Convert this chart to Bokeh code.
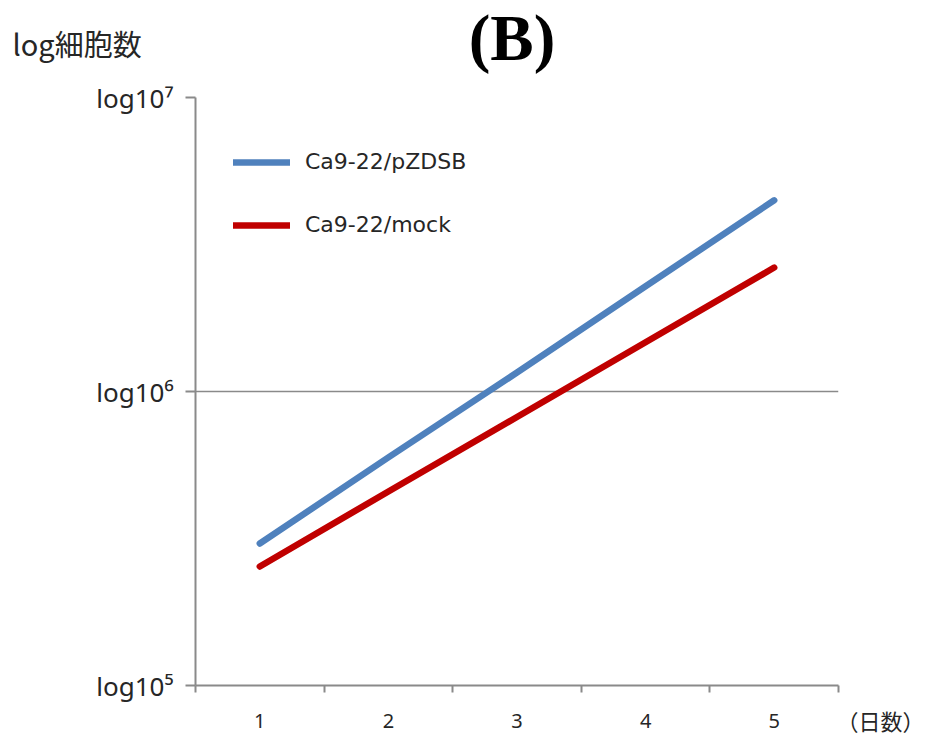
from bokeh.plotting import figure
from bokeh.layouts import column
from bokeh.models import FixedTicker, Legend, LegendItem, Label, Range1d
from bokeh.embed import file_html
from bokeh.resources import INLINE

# ---- data ----
days = [1, 2, 3, 4, 5]
pzdsb = [3.04e5, 5.97e5, 1.16e6, 2.28e6, 4.47e6]   # Ca9-22/pZDSB
mock = [2.54e5, 4.57e5, 8.19e5, 1.47e6, 2.64e6]    # Ca9-22/mock
y_ticks = [1e5, 1e6, 1e7]
y_tick_labels = ["log10\u2075", "log10\u2076", "log10\u2077"]
series_names = ["Ca9-22/pZDSB", "Ca9-22/mock"]
title_text = "(B)"
y_title = "log細胞数"
x_title = "（日数）"

GRAY = "#8a8a8a"
TXT = "#262626"
HEADER_H = 78
X_LO, X_HI = days[0] - 0.5, days[-1] + 0.5

# ---- header strip with the title texts (frame aligned with the chart below) ----
head = figure(width=928, height=HEADER_H, output_backend="svg", toolbar_location=None,
              x_range=Range1d(X_LO, X_HI), y_range=Range1d(0, HEADER_H),
              x_axis_location=None, y_axis_location=None,
              min_border=0, min_border_left=0, min_border_right=0,
              min_border_top=0, min_border_bottom=0)
head.outline_line_color = None
head.grid.visible = False
head.add_layout(Label(x=(X_LO + X_HI) / 2, x_offset=-5, y=HEADER_H - 37, text=title_text,
                      text_font="Liberation Serif", text_font_style="bold", text_font_size="65px",
                      text_align="center", text_baseline="middle", text_color="black"))
head.add_layout(Label(x=X_LO, x_offset=-183, y=HEADER_H - 42, text=y_title,
                      text_font="Noto Sans CJK JP", text_font_size="29px",
                      text_align="left", text_baseline="middle", text_color=TXT), "left")

# ---- main chart ----
p = figure(width=928, height=735 - HEADER_H, x_range=Range1d(X_LO, X_HI),
           y_range=Range1d(y_ticks[0], y_ticks[-1]),
           y_axis_type="log", output_backend="svg", toolbar_location=None,
           min_border_left=195, min_border_right=90, min_border_top=97 - HEADER_H,
           min_border_bottom=50)
p.outline_line_color = None

yt = FixedTicker(ticks=y_ticks, minor_ticks=[])
p.yaxis.ticker = yt
p.ygrid.ticker = yt
p.ygrid.grid_line_color = GRAY
p.ygrid.grid_line_width = 1.5
p.xgrid.visible = False
p.yaxis.major_label_overrides = {t: s for t, s in zip(y_ticks, y_tick_labels)}
p.yaxis.axis_line_color = GRAY
p.yaxis.axis_line_width = 2
p.yaxis.major_tick_line_color = GRAY
p.yaxis.major_tick_line_width = 2
p.yaxis.major_tick_out = 10
p.yaxis.major_tick_in = 0
p.yaxis.minor_tick_line_color = None
p.yaxis.major_label_standoff = 12
p.yaxis.major_label_text_font = "Noto Sans"
p.yaxis.major_label_text_font_size = "26px"
p.yaxis.major_label_text_color = TXT

# x axis: labels at the categories, tick marks between them
xt = FixedTicker(ticks=days, minor_ticks=[d - 0.5 for d in days] + [days[-1] + 0.5])
p.xaxis.ticker = xt
p.xaxis.axis_line_color = GRAY
p.xaxis.axis_line_width = 2
p.xaxis.major_tick_line_color = None
p.xaxis.major_tick_out = 0
p.xaxis.major_tick_in = 0
p.xaxis.minor_tick_line_color = GRAY
p.xaxis.minor_tick_line_width = 2
p.xaxis.minor_tick_in = 0
p.xaxis.minor_tick_out = 7
p.xaxis.major_label_standoff = 21
p.xaxis.major_label_text_font = "Noto Sans"
p.xaxis.major_label_text_font_size = "20px"
p.xaxis.major_label_text_color = TXT

r1 = p.line(days, pzdsb, line_width=6.5, line_color="#4F81BD", line_cap="round", line_join="round")
r2 = p.line(days, mock, line_width=6.5, line_color="#C00000", line_cap="round", line_join="round")

legend = Legend(items=[LegendItem(label=series_names[0], renderers=[r1]),
                       LegendItem(label=series_names[1], renderers=[r2])],
                location=(38, 448), glyph_width=57, glyph_height=20, label_height=20,
                spacing=38, label_standoff=15, padding=0, margin=0,
                border_line_color=None, background_fill_alpha=0,
                label_text_font="DejaVu Sans", label_text_font_size="22px",
                label_text_color=TXT)
p.add_layout(legend)

# x-axis unit text at the right end of the axis (side panel, so it is not clipped)
p.add_layout(Label(x=X_HI, y=y_ticks[0], x_offset=42, y_offset=-34, text=x_title,
                   text_font="Noto Sans CJK JP", text_font_size="22px",
                   text_align="center", text_baseline="middle", text_color=TXT), "right")

layout = column(head, p, spacing=0)
open("out.html", "w").write(file_html(layout, INLINE))
